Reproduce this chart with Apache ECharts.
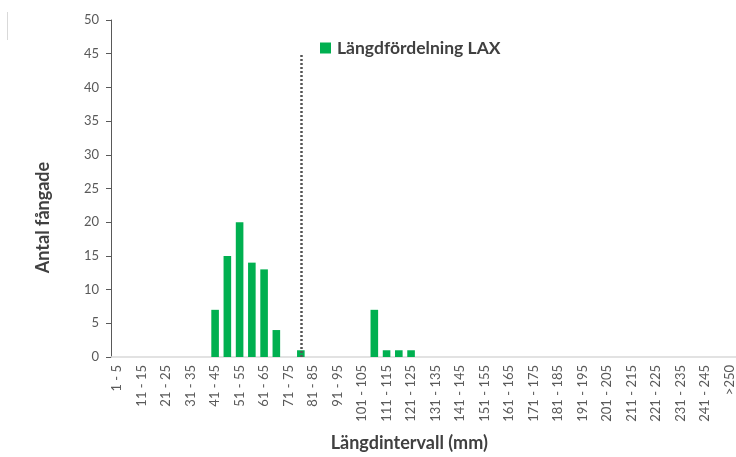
<!DOCTYPE html>
<html>
<head>
<meta charset="utf-8">
<script src="https://cdn.jsdelivr.net/npm/echarts@6/dist/echarts.min.js"></script>
<style>
  html, body { margin: 0; padding: 0; background: #fff; }
  #chart { width: 736px; height: 457px; }
</style>
</head>
<body>
<div id="chart"></div>
<script>
// Length classes (mm)
const categories = [
  '1 - 5', '6 - 10', '11 - 15', '16 - 20', '21 - 25', '26 - 30', '31 - 35', '36 - 40',
  '41 - 45', '46 - 50', '51 - 55', '56 - 60', '61 - 65', '66 - 70', '71 - 75', '76 - 80',
  '81 - 85', '86 - 90', '91 - 95', '96 - 100', '101 - 105', '106 - 110', '111 - 115', '116 - 120',
  '121 - 125', '126 - 130', '131 - 135', '136 - 140', '141 - 145', '146 - 150', '151 - 155', '156 - 160',
  '161 - 165', '166 - 170', '171 - 175', '176 - 180', '181 - 185', '186 - 190', '191 - 195', '196 - 200',
  '201 - 205', '206 - 210', '211 - 215', '216 - 220', '221 - 225', '226 - 230', '231 - 235', '236 - 240',
  '241 - 245', '246 - 250', '>250'
];

// Number of salmon caught per length class
const counts = [
  0, 0, 0, 0, 0, 0, 0, 0,
  7, 15, 20, 14, 13, 4, 0, 1,
  0, 0, 0, 0, 0, 7, 1, 1,
  1, 0, 0, 0, 0, 0, 0, 0,
  0, 0, 0, 0, 0, 0, 0, 0,
  0, 0, 0, 0, 0, 0, 0, 0,
  0, 0, 0
];

// Reference line: length class and height
const refClass = '76 - 80';
const refTop = 45;

const seriesName = 'Längdfördelning LAX';
const yTitle = 'Antal fångade';
const xTitle = 'Längdintervall (mm)';

const font = 'Lato, "Open Sans", sans-serif';

const chart = echarts.init(document.getElementById('chart'), null, { renderer: 'canvas' });
chart.setOption({
  animation: false,
  backgroundColor: '#ffffff',
  textStyle: { fontFamily: font },
  grid: { left: 111, right: 0, top: 20, bottom: 95, containLabel: false },
  legend: {
    data: [seriesName],
    left: 315, top: 34,
    itemWidth: 11, itemHeight: 11, itemGap: 6,
    icon: 'rect',
    textStyle: { fontFamily: font, fontSize: 17.5, fontWeight: 'bold', color: '#404040', padding: [0, 0, 0, 1] }
  },
  graphic: [{
    type: 'line',
    shape: { x1: 7.5, y1: 12, x2: 7.5, y2: 40 },
    style: { stroke: '#d9d9d9', lineWidth: 1 }
  }],
  xAxis: {
    type: 'category',
    data: categories,
    name: xTitle,
    nameLocation: 'middle',
    nameGap: 77,
    nameTextStyle: {
      fontFamily: font, fontSize: 18, fontWeight: 'bold', color: '#404040',
      padding: [0, 28, 0, 0]
    },
    axisLine: { lineStyle: { color: '#d9d9d9', width: 1.5 } },
    axisTick: { show: false },
    axisLabel: {
      interval: 1, rotate: 90, margin: 8,
      fontFamily: font, fontSize: 13, color: '#595959'
    },
    splitLine: { show: false }
  },
  yAxis: {
    type: 'value',
    min: 0, max: 50, interval: 5,
    name: yTitle,
    nameLocation: 'middle',
    nameGap: 59,
    nameRotate: 90,
    nameTextStyle: {
      fontFamily: font, fontSize: 18, fontWeight: 'bold', color: '#404040',
      padding: [0, 58, 0, 0]
    },
    axisLine: { show: true, lineStyle: { color: '#595959', width: 1 } },
    axisTick: { show: true, length: 5, lineStyle: { color: '#595959' } },
    axisLabel: { margin: 12, fontFamily: font, fontSize: 13, color: '#595959' },
    splitLine: { show: false }
  },
  series: [{
    name: seriesName,
    type: 'bar',
    data: counts,
    barCategoryGap: '38%',
    itemStyle: { color: '#00B050' },
    markLine: {
      silent: true,
      symbol: ['none', 'none'],
      label: { show: false },
      lineStyle: { color: '#555555', width: 2.5, type: [2, 2] },
      data: [[
        { coord: [refClass, 0] },
        { coord: [refClass, refTop] }
      ]]
    }
  }]
});
</script>
</body>
</html>
